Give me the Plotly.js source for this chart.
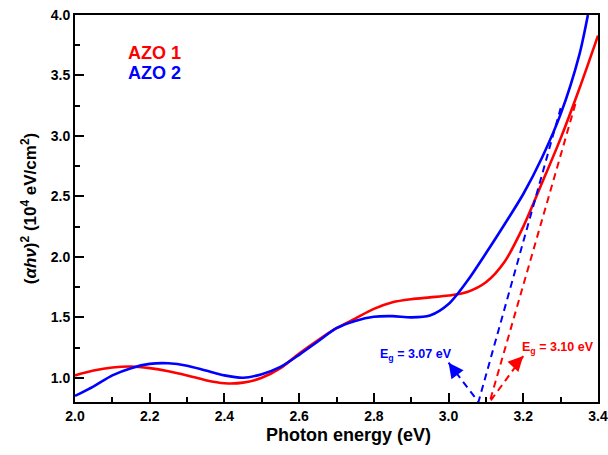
<!DOCTYPE html>
<html>
<head>
<meta charset="utf-8">
<script src="https://cdn.plot.ly/plotly-3.0.1.min.js"></script>
<style>html,body{margin:0;padding:0;background:#fff;}#chart{width:608px;height:455px;}</style>
</head>
<body>
<div id="chart"></div>
<script>
// Data
const energyAZO1 = [2.00,2.05,2.10,2.15,2.20,2.25,2.30,2.35,2.40,2.45,2.50,2.55,2.60,2.65,2.70,2.75,2.80,2.85,2.90,2.95,3.00,3.05,3.10,3.15,3.20,3.25,3.30,3.35,3.40];
const valuesAZO1 = [1.02,1.06,1.085,1.093,1.08,1.055,1.02,0.98,0.955,0.96,1.00,1.08,1.20,1.31,1.41,1.49,1.57,1.625,1.65,1.665,1.68,1.71,1.79,1.96,2.25,2.61,2.98,3.39,3.83];
const energyAZO2 = [2.00,2.05,2.10,2.15,2.20,2.25,2.30,2.35,2.40,2.45,2.50,2.55,2.60,2.65,2.70,2.75,2.80,2.85,2.90,2.95,3.00,3.05,3.10,3.15,3.20,3.25,3.30,3.35,3.373];
const valuesAZO2 = [0.85,0.93,1.02,1.08,1.115,1.12,1.10,1.06,1.02,1.00,1.03,1.09,1.19,1.30,1.41,1.47,1.505,1.51,1.50,1.515,1.61,1.80,2.03,2.27,2.52,2.82,3.18,3.67,4.0];
// Tauc fit lines (dashed) and arrow legs
const fitAZO1x = [3.20,3.11,3.34];
const fitAZO1y = [1.18,0.80,3.27];
const fitAZO2x = [3.00,3.08,3.30];
const fitAZO2y = [1.125,0.80,3.23];
const seriesNames = ['AZO 1','AZO 2'];
const gapLabels = ['E<sub>g</sub> = 3.10 eV','E<sub>g</sub> = 3.07 eV'];
const xTicks = [2.0,2.2,2.4,2.6,2.8,3.0,3.2,3.4];
const yTicks = [1.0,1.5,2.0,2.5,3.0,3.5,4.0];
const xTitle = 'Photon energy (eV)';
const yTitle = '(<i>αhν</i>)<sup>2</sup> (10<sup>4</sup> eV/cm<sup>2</sup>)';

const RED = '#ff0000', BLUE = '#0000ff';
const FONT = 'Arial, "Liberation Sans", sans-serif';

const traces = [
  {x: energyAZO1, y: valuesAZO1, mode:'lines', name: seriesNames[0], line:{color:RED, width:2.6, shape:'spline', smoothing:0.8}},
  {x: energyAZO2, y: valuesAZO2, mode:'lines', name: seriesNames[1], line:{color:BLUE, width:2.6, shape:'spline', smoothing:0.8}},
  {x: fitAZO1x, y: fitAZO1y, mode:'lines', showlegend:false, line:{color:RED, width:2, dash:'7px,5px'}},
  {x: fitAZO2x, y: fitAZO2y, mode:'lines', showlegend:false, line:{color:BLUE, width:2, dash:'7px,5px'}}
];

const axisCommon = {
  showgrid:false, zeroline:false, showline:true, linewidth:2, linecolor:'#000', mirror:true,
  ticks:'inside', ticklen:9, tickwidth:2, tickcolor:'#000',
  tickfont:{family:FONT, size:14, color:'#000', weight:'bold'},
  tickformat:'.1f'
};

const layout = {
  width:608, height:455,
  margin:{l:75, r:10, t:15, b:53},
  paper_bgcolor:'#fff', plot_bgcolor:'#fff',
  showlegend:false,
  xaxis: Object.assign({}, axisCommon, {
    range:[2.0,3.4], tickvals:xTicks,
    minor:{dtick:0.1, ticks:'inside', ticklen:5, tickwidth:2, tickcolor:'#000'}
  }),
  yaxis: Object.assign({}, axisCommon, {
    range:[0.8,4.0], tickvals:yTicks,
    minor:{dtick:0.25, ticks:'inside', ticklen:5, tickwidth:2, tickcolor:'#000'},
    title:{text:yTitle, font:{family:FONT, size:17, color:'#000', weight:'bold'}, standoff:10}
  }),
  annotations:[
    {x:0.522, y:-0.086, xref:'paper', yref:'paper', xanchor:'center', yanchor:'middle', showarrow:false, text:xTitle, font:{family:FONT, size:18, color:'#000', weight:'bold'}},
    {x:2.136, y:3.685, xref:'x', yref:'y', xanchor:'left', yanchor:'middle', showarrow:false, text:seriesNames[0], font:{family:FONT, size:18, color:RED, weight:'bold'}},
    {x:2.136, y:3.52, xref:'x', yref:'y', xanchor:'left', yanchor:'middle', showarrow:false, text:seriesNames[1], font:{family:FONT, size:18, color:BLUE, weight:'bold'}},
    {x:3.192, y:1.25, xref:'x', yref:'y', xanchor:'left', yanchor:'middle', showarrow:false, text:gapLabels[0], font:{family:FONT, size:12.5, color:RED, weight:'bold'}},
    {x:2.812, y:1.19, xref:'x', yref:'y', xanchor:'left', yanchor:'middle', showarrow:false, text:gapLabels[1], font:{family:FONT, size:12.5, color:BLUE, weight:'bold'}},
    {x:fitAZO1x[0], y:fitAZO1y[0], ax:3.18, ay:1.115, xref:'x', yref:'y', axref:'x', ayref:'y', showarrow:true, arrowhead:2, arrowsize:1.2, arrowwidth:2.5, arrowcolor:RED, text:''},
    {x:fitAZO2x[0], y:fitAZO2y[0], ax:3.018, ay:1.05, xref:'x', yref:'y', axref:'x', ayref:'y', showarrow:true, arrowhead:2, arrowsize:1.2, arrowwidth:2.5, arrowcolor:BLUE, text:''}
  ]
};

Plotly.newPlot('chart', traces, layout, {staticPlot:true, displayModeBar:false});
</script>
</body>
</html>
